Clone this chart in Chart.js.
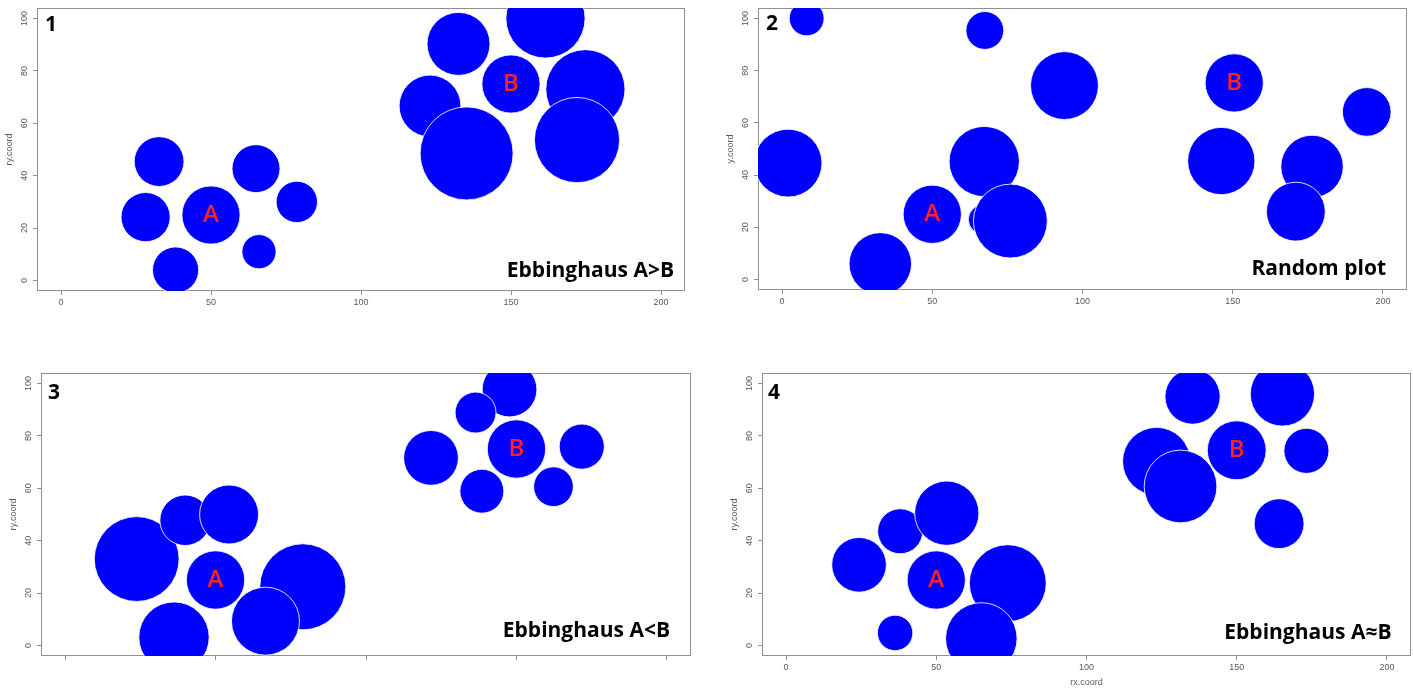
<!DOCTYPE html>
<html>
<head>
<meta charset="utf-8">
<script src="https://cdn.jsdelivr.net/npm/chart.js@4.4.1/dist/chart.umd.min.js"></script>
<style>
  html, body { margin: 0; padding: 0; background: #fff; width: 1413px; height: 692px; overflow: hidden; position: relative; }
  canvas { position: absolute; }
</style>
</head>
<body>
<canvas id="c1"></canvas>
<canvas id="c2"></canvas>
<canvas id="c3"></canvas>
<canvas id="c4"></canvas>
<script>
// Axis ticks shared by all four plots
const xTicks = [0, 50, 100, 150, 200];
const yTicks = [0, 20, 40, 60, 80, 100];

// Plot 1: Ebbinghaus A>B  (radius in x-axis units)
const p1X = [32.7, 28.2, 50, 38.2, 65, 78.6, 66, 150, 132.5, 161.5, 123, 174.8, 135.2, 172];
const p1Y = [45.4, 24.2, 25, 4, 42.7, 30, 11, 75, 90.3, 100, 66.6, 73, 48.5, 53.6];
const p1R = [8.3, 8.2, 9.7, 7.7, 8, 6.9, 5.7, 9.7, 10.5, 13.2, 10.3, 13.2, 15.5, 14.2];
const p1Tag = ['', '', 'A', '', '', '', '', 'B', '', '', '', '', '', ''];

// Plot 2: random placement
const p2X = [8.2, 67.5, 94, 2, 67.3, 50, 67, 76, 32.7, 150.5, 194.6, 146.2, 176.4, 171];
const p2Y = [100, 95.4, 74.3, 44.6, 45.2, 25, 23, 22.4, 6, 75.3, 64.2, 45.4, 43.3, 26];
const p2R = [5.8, 6.3, 11.3, 11.3, 11.7, 9.7, 5, 12.3, 10.4, 9.7, 8.1, 11.2, 10.4, 9.8];
const p2Tag = ['', '', '', '', '', 'A', '', '', '', 'B', '', '', '', ''];

// Plot 3: Ebbinghaus A<B
const p3X = [23.8, 39.9, 54.5, 50, 79, 66.6, 36.2, 150, 147.7, 136.4, 121.6, 171.7, 138.5, 162.3];
const p3Y = [33, 47.8, 50, 25, 22.4, 9.3, 3.2, 75, 97.7, 88.9, 71.6, 75.9, 58.9, 60.6];
const p3R = [14.1, 8.4, 9.8, 9.7, 14.3, 11.3, 11.7, 9.7, 9.1, 6.8, 9.1, 7.5, 7.3, 6.6];
const p3Tag = ['', '', '', 'A', '', '', '', 'B', '', '', '', '', '', ''];

// Plot 4: Ebbinghaus A≈B
const p4X = [24.3, 38, 53.5, 50, 73.8, 36.3, 65, 150, 135.3, 165.2, 123.3, 131.3, 173.2, 164.1];
const p4Y = [30.8, 43.6, 50.5, 25, 23.8, 4.8, 2.7, 74.5, 95, 96, 70.3, 60.7, 74.3, 46.5];
const p4R = [9.1, 7.5, 10.7, 9.7, 12.8, 5.9, 11.9, 9.8, 9.2, 10.7, 11.3, 12.1, 7.5, 8.3];
const p4Tag = ['', '', '', 'A', '', '', '', 'B', '', '', '', '', '', ''];

const captions = ['Ebbinghaus A>B', 'Random plot', 'Ebbinghaus A<B', 'Ebbinghaus A\u2248B'];
const numbers = ['1', '2', '3', '4'];
const yTitles = ['ry.coord', 'y.coord', 'ry.coord', 'ry.coord'];
const xTitles = ['', '', '', 'rx.coord'];

Chart.defaults.font.family = '"Liberation Sans", Arial, sans-serif';

const toPoints = (xs, ys, rs) => xs.map((x, i) => ({ x: x, y: ys[i], size: rs[i] }));

// circle radius is given in x-axis units and converted through the x scale
const unitRadius = (ctx) => {
  const s = ctx.chart.scales.x;
  if (!ctx.raw || !s) return 0;
  const r = Math.abs(s.getPixelForValue(ctx.raw.size) - s.getPixelForValue(0));
  return isFinite(r) ? r : 0;
};

const frameAndText = {
  id: 'frameAndText',
  beforeDatasetsDraw(chart) {
    const { ctx, chartArea: a } = chart;
    ctx.save();
    ctx.strokeStyle = '#8f8f8f';
    ctx.lineWidth = 1;
    ctx.strokeRect(Math.round(a.left) + 0.5, Math.round(a.top) + 0.5,
                   Math.round(a.right - a.left) - 1, Math.round(a.bottom - a.top) - 1);
    ctx.restore();
  },
  afterDatasetsDraw(chart, args, o) {
    const { ctx, chartArea: a } = chart;
    const meta = chart.getDatasetMeta(0);
    ctx.save();
    ctx.fillStyle = '#ff2222';
    ctx.font = '600 24px "Open Sans"';
    ctx.textAlign = 'center';
    ctx.textBaseline = 'middle';
    o.tags.forEach((t, i) => {
      if (!t) return;
      const el = meta.data[i];
      ctx.fillText(t, el.x, el.y);
    });
    ctx.fillStyle = '#000';
    ctx.font = 'bold 21px "Open Sans"';
    ctx.textAlign = 'left';
    ctx.textBaseline = 'alphabetic';
    ctx.fillText(o.num, a.left + o.numAt[0], a.top + o.numAt[1]);
    ctx.textAlign = 'right';
    ctx.fillText(o.caption, a.right - o.capAt[0], a.bottom - o.capAt[1]);
    ctx.restore();
  }
};

function buildPanel(id, k, area, pts, tags, opts) {
  const yW = 40, xH = 40, padT = 12, padR = 8;
  const left = area[0] - yW, top = area[1] - padT;
  const width = Math.round(area[2] - left + padR), height = Math.round(area[3] - top + xH);
  const cv = document.getElementById(id);
  cv.width = width; cv.height = height;
  cv.style.width = width + 'px'; cv.style.height = height + 'px';
  cv.style.left = left + 'px'; cv.style.top = top + 'px';

  const grid = { drawOnChartArea: false, drawTicks: true, tickLength: 4, color: '#8f8f8f', lineWidth: 1 };
  const tickColor = '#5a5a5a';

  return new Chart(cv, {
    type: 'scatter',
    data: {
      datasets: [{
        data: pts,
        clip: 0,
        showLine: false,
        pointBackgroundColor: '#0000ff',
        pointBorderColor: 'rgba(255,255,255,0.85)',
        pointBorderWidth: 1,
        pointRadius: unitRadius,
        pointHoverRadius: unitRadius
      }]
    },
    options: {
      responsive: false,
      animation: false,
      devicePixelRatio: 1,
      events: [],
      layout: { padding: { left: 0, top: area[1] - top, right: padR, bottom: 0 } },
      plugins: {
        legend: { display: false },
        tooltip: { enabled: false },
        frameAndText: { tags: tags, num: numbers[k], caption: captions[k], numAt: opts.numAt, capAt: opts.capAt }
      },
      scales: {
        x: {
          type: 'linear', position: 'bottom', min: -8, max: 208, bounds: 'data',
          afterBuildTicks: (s) => { s.ticks = xTicks.map(v => ({ value: v })); },
          afterFit: (s) => { s.height = xH; },
          grid: grid,
          border: { display: false },
          ticks: { display: opts.xLabels, color: tickColor, font: { size: 9 }, padding: 2, maxRotation: 0, minRotation: 0 },
          title: { display: !!xTitles[k], text: xTitles[k], color: tickColor, font: { size: 9 }, padding: { top: 0, bottom: 7.6 } }
        },
        y: {
          type: 'linear', position: 'left', min: -4, max: 104, bounds: 'data',
          afterBuildTicks: (s) => { s.ticks = yTicks.map(v => ({ value: v })); },
          afterFit: (s) => { s.width = yW; },
          grid: grid,
          border: { display: false },
          ticks: { color: tickColor, font: { size: 9 }, padding: 1, minRotation: 90, maxRotation: 90, crossAlign: 'center' },
          title: { display: true, text: yTitles[k], color: tickColor, font: { size: 9 }, padding: { top: 7, bottom: 0 } }
        }
      }
    },
    plugins: [frameAndText]
  });
}

buildPanel('c1', 0, [37, 8, 685, 291], toPoints(p1X, p1Y, p1R), p1Tag,
  { xLabels: true, numAt: [8, 23], capAt: [11, 14] });
buildPanel('c2', 1, [758, 7.6, 1406.5, 289.4], toPoints(p2X, p2Y, p2R), p2Tag,
  { xLabels: true, numAt: [8, 22.4], capAt: [21, 15] });
buildPanel('c3', 2, [41, 372.8, 691, 655.5], toPoints(p3X, p3Y, p3R), p3Tag,
  { xLabels: false, numAt: [7, 26], capAt: [21, 19] });
buildPanel('c4', 3, [762, 373.2, 1411, 656.2], toPoints(p4X, p4Y, p4R), p4Tag,
  { xLabels: true, numAt: [6, 26], capAt: [19.5, 17] });
</script>
</body>
</html>
